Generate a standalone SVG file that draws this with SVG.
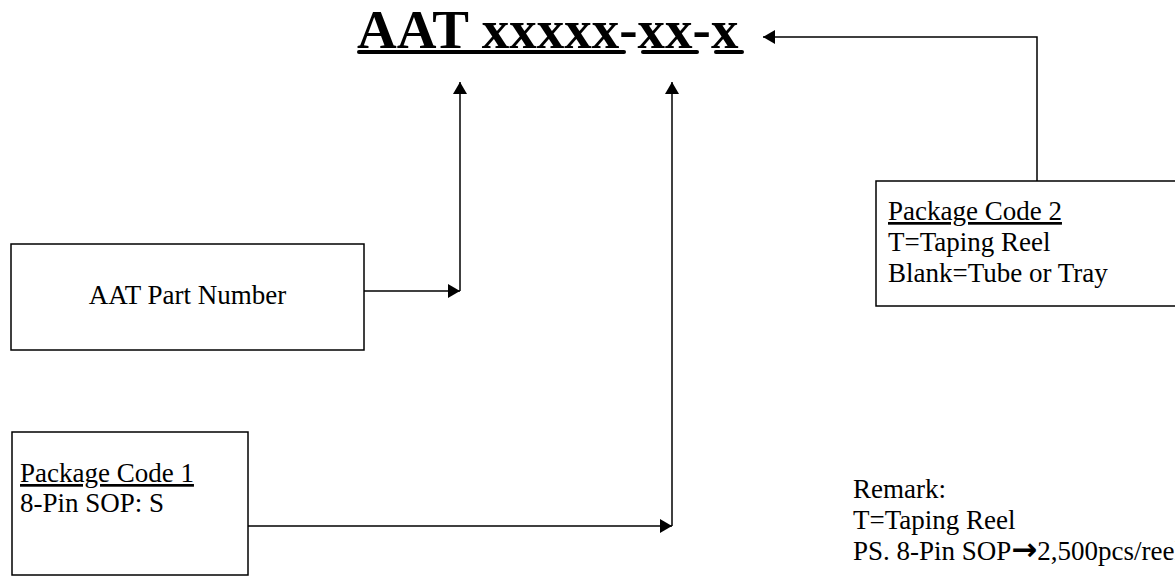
<svg xmlns="http://www.w3.org/2000/svg" width="1175" height="576" viewBox="0 0 1175 576">
<style>
.box{fill:#fff;stroke:#000;stroke-width:1.5}
.t{font-family:"Liberation Serif","Times New Roman",serif;font-size:27px;fill:#000}
.title{font-family:"Liberation Serif","Times New Roman",serif;font-size:55px;font-weight:bold;fill:#000}
.ul{text-decoration:underline}
.sym{font-family:"DejaVu Sans",sans-serif;font-weight:bold;font-size:31px}
.con{fill:none;stroke:#000;stroke-width:1.5}
.tul{stroke:#000;stroke-width:4;stroke-linecap:round}
</style>
<defs>
<marker id="arr" markerUnits="userSpaceOnUse" markerWidth="14" markerHeight="14" refX="12" refY="7" orient="auto">
<path d="M0,0 L12,7 L0,14 Z" fill="#000"/>
</marker>
</defs>
<rect width="1175" height="576" fill="#fff"/>
<g id="title">
<text class="title" x="357" y="48">AAT xxxxx-xx-x</text>
<line class="tul" x1="359" y1="52" x2="624" y2="52"/>
<line class="tul" x1="643" y1="52" x2="697" y2="52"/>
<line class="tul" x1="716" y1="52" x2="742" y2="52"/>
</g>
<g id="part-number">
<rect class="box" x="11" y="244" width="353" height="106"/>
<text class="t" x="187.5" y="304" text-anchor="middle">AAT Part Number</text>
</g>
<g id="package-code-1">
<rect class="box" x="12" y="432" width="236" height="143"/>
<text class="t" x="20" y="482"><tspan class="ul">Package Code 1</tspan></text>
<text class="t" x="20" y="512">8-Pin SOP: S</text>
</g>
<g id="package-code-2">
<rect class="box" x="876" y="181" width="320" height="125"/>
<text class="t" x="888" y="220"><tspan class="ul">Package Code 2</tspan></text>
<text class="t" x="888" y="251">T=Taping Reel</text>
<text class="t" x="888" y="282">Blank=Tube or Tray</text>
</g>
<g id="remark">
<text class="t" x="853" y="498">Remark:</text>
<text class="t" x="853" y="529">T=Taping Reel</text>
<text class="t" x="853" y="560">PS. 8-Pin SOP<tspan class="sym">→</tspan>2,500pcs/reel</text>
</g>
<g id="connectors">
<path class="con" d="M1037,181 V37 H763" marker-end="url(#arr)"/>
<path class="con" d="M364,291 H460" marker-end="url(#arr)"/>
<path class="con" d="M460,291 V82" marker-end="url(#arr)"/>
<path class="con" d="M248,526 H672" marker-end="url(#arr)"/>
<path class="con" d="M672,526 V82" marker-end="url(#arr)"/>
</g>
</svg>
